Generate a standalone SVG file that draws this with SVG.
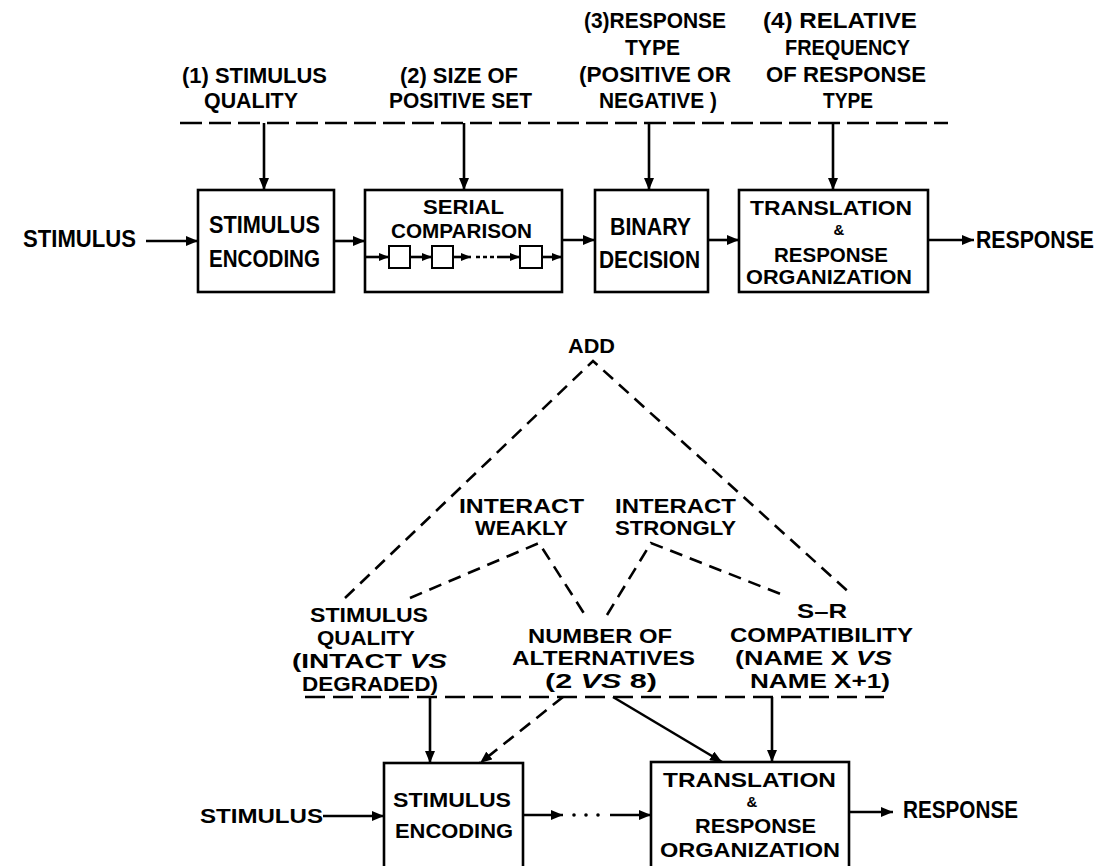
<svg xmlns="http://www.w3.org/2000/svg" width="1117" height="866" viewBox="0 0 1117 866">
  <style>
    text { font-family: "Liberation Sans", Arial, sans-serif; font-weight: bold; fill: #000; }
    .lbl { font-size: 22px; }
    .box-text { font-size: 23px; }
    .tight { font-size: 20px; }
    .amp { font-size: 15px; }
    .low { font-size: 21px; }
    .low-tight { font-size: 20px; }
    .box { fill: #fff; stroke: #000; stroke-width: 2.6; }
    .inner { fill: #fff; stroke: #000; stroke-width: 2; }
    .wire { fill: none; stroke: #000; stroke-width: 2.6; }
    .dash-top { fill: none; stroke: #000; stroke-width: 2.4; stroke-dasharray: 22 7; }
    .dash-low { fill: none; stroke: #000; stroke-width: 2.4; stroke-dasharray: 20 8; }
    .dash-tree { fill: none; stroke: #000; stroke-width: 2.6; stroke-dasharray: 13 8; }
    .dots { fill: none; stroke: #000; stroke-width: 2.4; stroke-dasharray: 4 3; }
  </style>
  <defs>
    <marker id="head" viewBox="0 0 12 10" refX="12" refY="5" markerWidth="12" markerHeight="10" markerUnits="userSpaceOnUse" orient="auto">
      <path d="M0,0 L12,5 L0,10 z" fill="#000"/>
    </marker>
    <marker id="head-sm" viewBox="0 0 10 8" refX="10" refY="4" markerWidth="10" markerHeight="8" markerUnits="userSpaceOnUse" orient="auto">
      <path d="M0,0 L10,4 L0,8 z" fill="#000"/>
    </marker>
  </defs>

  <!-- ===== Upper model: serial stages ===== -->
  <g id="factor-labels-top">
    <text class="lbl" x="182" y="83" textLength="145" lengthAdjust="spacingAndGlyphs">(1) STIMULUS</text>
    <text class="lbl" x="204" y="108" textLength="94" lengthAdjust="spacingAndGlyphs">QUALITY</text>
    <text class="lbl" x="400" y="83" textLength="118" lengthAdjust="spacingAndGlyphs">(2) SIZE OF</text>
    <text class="lbl" x="389" y="108" textLength="143" lengthAdjust="spacingAndGlyphs">POSITIVE SET</text>
    <text class="lbl" x="584" y="28" textLength="142" lengthAdjust="spacingAndGlyphs">(3)RESPONSE</text>
    <text class="lbl" x="625" y="55" textLength="55" lengthAdjust="spacingAndGlyphs">TYPE</text>
    <text class="lbl" x="579" y="82" textLength="152" lengthAdjust="spacingAndGlyphs">(POSITIVE OR</text>
    <text class="lbl" x="599" y="108" textLength="118" lengthAdjust="spacingAndGlyphs">NEGATIVE )</text>
    <text class="lbl" x="763" y="28" textLength="154" lengthAdjust="spacingAndGlyphs">(4) RELATIVE</text>
    <text class="lbl" x="785" y="55" textLength="125" lengthAdjust="spacingAndGlyphs">FREQUENCY</text>
    <text class="lbl" x="766" y="82" textLength="160" lengthAdjust="spacingAndGlyphs">OF RESPONSE</text>
    <text class="lbl" x="823" y="108" textLength="50" lengthAdjust="spacingAndGlyphs">TYPE</text>
  </g>

  <g id="stimulus-top">
    <text class="box-text" x="23" y="247" textLength="113" lengthAdjust="spacingAndGlyphs">STIMULUS</text>
  </g>

  <g id="stimulus-encoding-top">
    <rect class="box" x="198" y="190" width="136" height="102"/>
    <text class="box-text" x="209" y="233" textLength="111" lengthAdjust="spacingAndGlyphs">STIMULUS</text>
    <text class="box-text" x="209" y="267" textLength="111" lengthAdjust="spacingAndGlyphs">ENCODING</text>
  </g>

  <g id="serial-comparison">
    <rect class="box" x="365" y="190" width="197" height="102"/>
    <text class="tight" x="423" y="214" textLength="81" lengthAdjust="spacingAndGlyphs">SERIAL</text>
    <text class="tight" x="391" y="238" textLength="141" lengthAdjust="spacingAndGlyphs">COMPARISON</text>
    <rect class="inner" x="389" y="246" width="21" height="22"/>
    <rect class="inner" x="432" y="246" width="21" height="22"/>
    <rect class="inner" x="520" y="246" width="22" height="22"/>
  </g>

  <g id="binary-decision">
    <rect class="box" x="595" y="190" width="113" height="102"/>
    <text class="box-text" x="610" y="235" textLength="81" lengthAdjust="spacingAndGlyphs">BINARY</text>
    <text class="box-text" x="599" y="268" textLength="101" lengthAdjust="spacingAndGlyphs">DECISION</text>
  </g>

  <g id="translation-top">
    <rect class="box" x="739" y="190" width="189" height="102"/>
    <text class="tight" x="750" y="215" textLength="162" lengthAdjust="spacingAndGlyphs">TRANSLATION</text>
    <text class="amp" x="839" y="235" text-anchor="middle">&amp;</text>
    <text class="tight" x="774" y="262" textLength="114" lengthAdjust="spacingAndGlyphs">RESPONSE</text>
    <text class="tight" x="746" y="284" textLength="166" lengthAdjust="spacingAndGlyphs">ORGANIZATION</text>
  </g>

  <g id="response-top">
    <text class="box-text" x="976" y="248" textLength="118" lengthAdjust="spacingAndGlyphs">RESPONSE</text>
  </g>

  <!-- ===== Lower model: additive factors ===== -->
  <g id="add-labels">
    <text class="low" x="568" y="353" textLength="47" lengthAdjust="spacingAndGlyphs">ADD</text>
    <text class="low" x="459" y="513" textLength="125" lengthAdjust="spacingAndGlyphs">INTERACT</text>
    <text class="low" x="475" y="535" textLength="93" lengthAdjust="spacingAndGlyphs">WEAKLY</text>
    <text class="low" x="615" y="513" textLength="121" lengthAdjust="spacingAndGlyphs">INTERACT</text>
    <text class="low" x="615" y="535" textLength="121" lengthAdjust="spacingAndGlyphs">STRONGLY</text>
  </g>

  <g id="factor-stimulus-quality">
    <text class="low-tight" x="310" y="622" textLength="118" lengthAdjust="spacingAndGlyphs">STIMULUS</text>
    <text class="low-tight" x="317" y="645" textLength="98" lengthAdjust="spacingAndGlyphs">QUALITY</text>
    <text class="low-tight" x="292" y="668" textLength="155" lengthAdjust="spacingAndGlyphs">(INTACT <tspan font-style="italic">VS</tspan></text>
    <text class="low-tight" x="302" y="691" textLength="136" lengthAdjust="spacingAndGlyphs">DEGRADED)</text>
  </g>

  <g id="factor-alternatives">
    <text class="low-tight" x="528" y="643" textLength="144" lengthAdjust="spacingAndGlyphs">NUMBER OF</text>
    <text class="low-tight" x="512" y="665" textLength="183" lengthAdjust="spacingAndGlyphs">ALTERNATIVES</text>
    <text class="low-tight" x="545" y="688" textLength="112" lengthAdjust="spacingAndGlyphs">(2 <tspan font-style="italic">VS</tspan> 8)</text>
  </g>

  <g id="factor-compatibility">
    <text class="low-tight" x="797" y="618" textLength="50" lengthAdjust="spacingAndGlyphs">S–R</text>
    <text class="low-tight" x="730" y="642" textLength="183" lengthAdjust="spacingAndGlyphs">COMPATIBILITY</text>
    <text class="low-tight" x="735" y="665" textLength="157" lengthAdjust="spacingAndGlyphs">(NAME X <tspan font-style="italic">VS</tspan></text>
    <text class="low-tight" x="750" y="688" textLength="140" lengthAdjust="spacingAndGlyphs">NAME X+1)</text>
  </g>

  <g id="stimulus-bottom">
    <text class="low" x="200" y="823" textLength="123" lengthAdjust="spacingAndGlyphs">STIMULUS</text>
  </g>

  <g id="stimulus-encoding-bottom">
    <rect class="box" x="384" y="763" width="139" height="120"/>
    <text class="low" x="393" y="807" textLength="118" lengthAdjust="spacingAndGlyphs">STIMULUS</text>
    <text class="low" x="395" y="838" textLength="118" lengthAdjust="spacingAndGlyphs">ENCODING</text>
  </g>

  <g id="translation-bottom">
    <rect class="box" x="651" y="762" width="198" height="120"/>
    <text class="low-tight" x="663" y="787" textLength="173" lengthAdjust="spacingAndGlyphs">TRANSLATION</text>
    <text class="amp" x="752" y="807" text-anchor="middle">&amp;</text>
    <text class="low-tight" x="695" y="833" textLength="121" lengthAdjust="spacingAndGlyphs">RESPONSE</text>
    <text class="low-tight" x="660" y="857" textLength="180" lengthAdjust="spacingAndGlyphs">ORGANIZATION</text>
  </g>

  <g id="response-bottom">
    <text class="box-text" x="903" y="818" textLength="115" lengthAdjust="spacingAndGlyphs">RESPONSE</text>
  </g>

  <!-- ===== Connectors ===== -->
  <g id="connectors">
    <!-- upper: factor line and influences -->
    <line class="dash-top" x1="180" y1="123" x2="948" y2="123"/>
    <line class="wire" x1="264" y1="123" x2="264" y2="190" marker-end="url(#head)"/>
    <line class="wire" x1="464" y1="123" x2="464" y2="190" marker-end="url(#head)"/>
    <line class="wire" x1="649" y1="123" x2="649" y2="190" marker-end="url(#head)"/>
    <line class="wire" x1="833" y1="123" x2="833" y2="190" marker-end="url(#head)"/>

    <!-- upper: stage flow -->
    <line class="wire" x1="146" y1="241" x2="198" y2="241" marker-end="url(#head)"/>
    <line class="wire" x1="334" y1="241" x2="365" y2="241" marker-end="url(#head)"/>
    <line class="wire" x1="562" y1="240" x2="595" y2="240" marker-end="url(#head)"/>
    <line class="wire" x1="708" y1="240" x2="739" y2="240" marker-end="url(#head)"/>
    <line class="wire" x1="928" y1="240" x2="974" y2="240" marker-end="url(#head)"/>

    <!-- serial comparison chain -->
    <line class="wire" x1="365" y1="257" x2="389" y2="257" marker-end="url(#head-sm)"/>
    <line class="wire" x1="410" y1="257" x2="432" y2="257" marker-end="url(#head-sm)"/>
    <line class="wire" x1="453" y1="257" x2="471" y2="257" marker-end="url(#head-sm)"/>
    <line class="dots" x1="476" y1="257" x2="498" y2="257"/>
    <line class="wire" x1="498" y1="257" x2="520" y2="257" marker-end="url(#head-sm)"/>
    <line class="wire" x1="542" y1="257" x2="562" y2="257" marker-end="url(#head-sm)"/>

    <!-- lower: additivity tree -->
    <polyline class="dash-tree" points="345,598 593,361 852,595"/>
    <polyline class="dash-tree" points="410,598 539,543 585,615"/>
    <polyline class="dash-tree" points="607,615 651,543 783,595"/>

    <!-- lower: factor line and influences -->
    <line class="dash-low" x1="305" y1="697" x2="884" y2="697"/>
    <line class="wire" x1="430" y1="697" x2="430" y2="763" marker-end="url(#head)"/>
    <line class="dash-tree" x1="563" y1="697" x2="480" y2="763" marker-end="url(#head)"/>
    <line class="wire" x1="613" y1="697" x2="722" y2="762" marker-end="url(#head)"/>
    <line class="wire" x1="772" y1="697" x2="772" y2="762" marker-end="url(#head)"/>

    <!-- lower: stage flow -->
    <line class="wire" x1="323" y1="816" x2="384" y2="816" marker-end="url(#head)"/>
    <line class="wire" x1="523" y1="815" x2="563" y2="815" marker-end="url(#head)"/>
    <circle cx="574" cy="815" r="1.8" fill="#000"/>
    <circle cx="586" cy="815" r="1.8" fill="#000"/>
    <circle cx="598" cy="815" r="1.8" fill="#000"/>
    <line class="wire" x1="610" y1="815" x2="651" y2="815" marker-end="url(#head)"/>
    <line class="wire" x1="849" y1="812" x2="893" y2="812" marker-end="url(#head)"/>
  </g>
</svg>
